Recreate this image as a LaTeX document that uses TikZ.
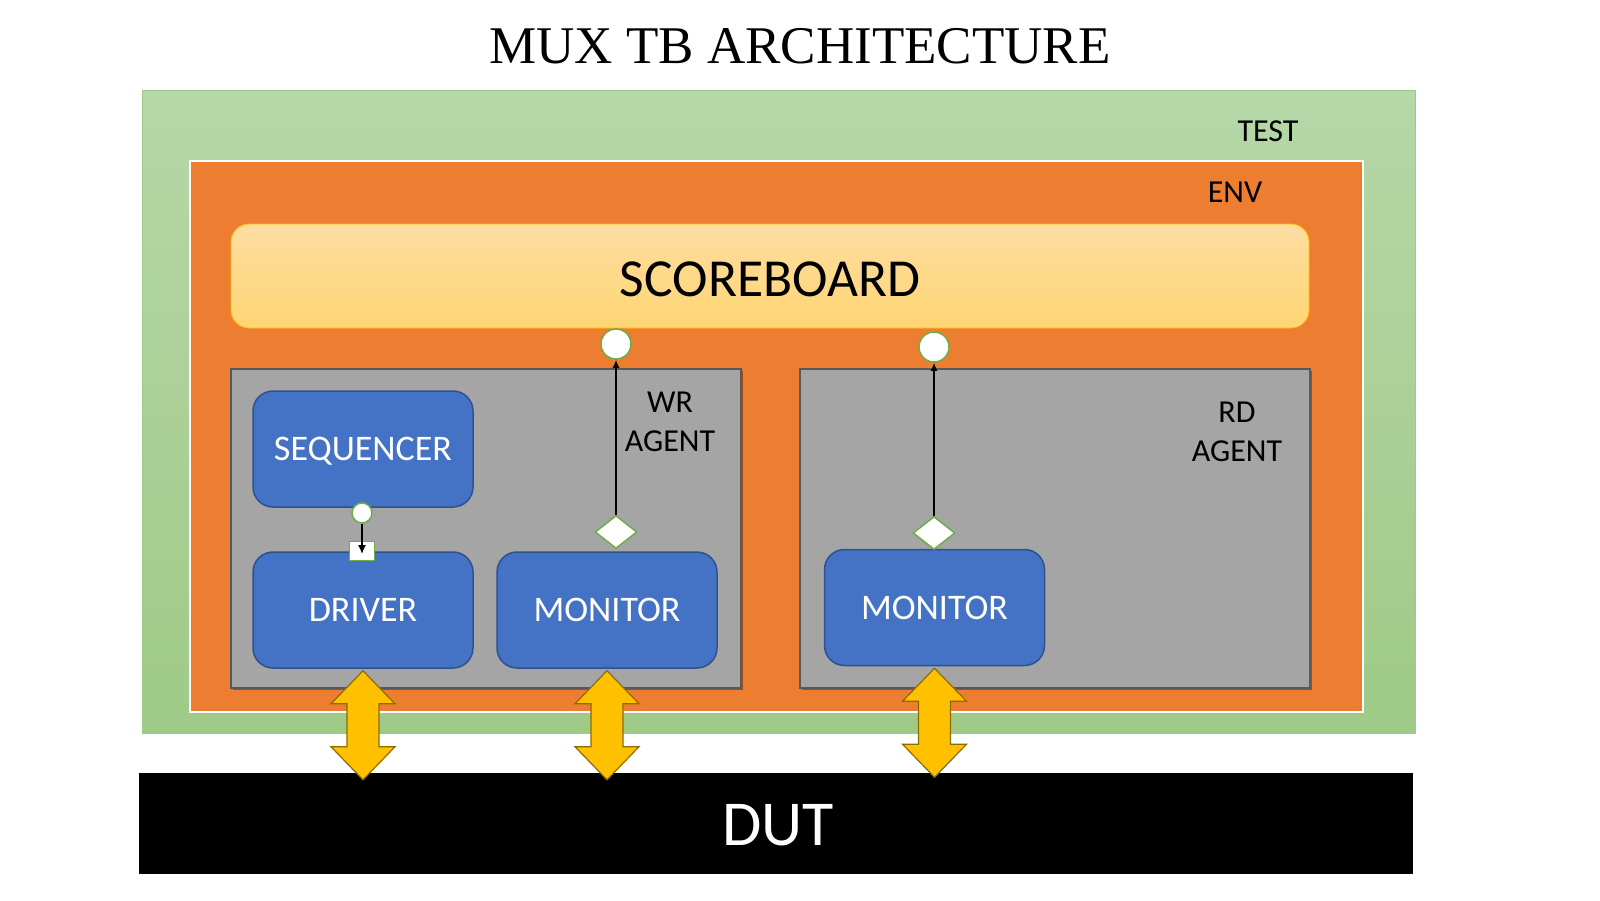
\documentclass[tikz,border=0pt]{standalone}
\usepackage{fontspec}
\setmainfont{Carlito}
\newfontfamily\titlefont{Liberation Serif}
\usetikzlibrary{shadows,arrows.meta,shapes.geometric,calc}
\definecolor{testtop}{HTML}{B6D7A8}
\definecolor{testbot}{HTML}{9FCA86}
\definecolor{envor}{HTML}{ED7D31}
\definecolor{sbtop}{HTML}{FDDCA2}
\definecolor{sbbot}{HTML}{FFD672}
\definecolor{sbedge}{HTML}{FFC000}
\definecolor{agray}{HTML}{A5A5A5}
\definecolor{agrayedge}{HTML}{595959}
\definecolor{bblue}{HTML}{4472C4}
\definecolor{bblueedge}{HTML}{2F528F}
\definecolor{portedge}{HTML}{70AD47}
\definecolor{yarr}{HTML}{FFC000}
\definecolor{yarredge}{HTML}{8C6D00}
\tikzset{
  testbox/.style={rectangle, inner sep=0, shading=axis, top color=testtop, bottom color=testbot, draw=testbot, line width=0.8pt},
  envbox/.style={rectangle, inner sep=0, fill=envor, draw=white, line width=2.5pt},
  sbbox/.style={rectangle, rounded corners=18pt, inner sep=0, shading=axis, top color=sbtop, bottom color=sbbot, draw=sbedge, line width=0.8pt},
  agentbox/.style={rectangle, inner sep=0, fill=agray, draw=agrayedge, line width=1.5pt, drop shadow={shadow xshift=2pt, shadow yshift=-2pt, fill=black, opacity=0.35}},
  compbox/.style={rectangle, rounded corners=20pt, inner sep=0, fill=bblue, draw=bblueedge, line width=1.5pt, minimum width=220pt, minimum height=116pt},
  comptext/.style={inner sep=0, text=white, font=\fontsize{36}{43}\selectfont, text depth=0pt},
  lbl/.style={inner sep=0, align=center, font=\fontsize{32}{39}\selectfont},
  portc/.style={circle, fill=white, draw=portedge, line width=1.5pt, inner sep=0},
  portd/.style={diamond, fill=white, draw=portedge, line width=1.5pt, inner sep=0, minimum width=42pt, minimum height=33pt},
  ports/.style={rectangle, fill=white, draw=portedge, line width=1.5pt, inner sep=0, minimum width=25pt, minimum height=19pt},
  link/.style={line width=2pt, -{Latex[length=8pt,width=7pt]}},
  yarrow/.style={fill=yarr, draw=yarredge, line width=1.2pt, line join=miter}
}
\begin{document}
\begin{tikzpicture}[x=1pt, y=-1pt]
\useasboundingbox[fill=white] (0,0) rectangle (1600,900);
% title
\node[inner sep=0, anchor=base, font=\titlefont\fontsize{53}{60}\selectfont] (title) at (800,63) {MUX TB ARCHITECTURE};
% test
\node[testbox, minimum width=1273pt, minimum height=643pt] (test) at (778.5,411.5) {};
\node[lbl] (testlbl) at (1268,131) {TEST};
% env
\node[envbox, minimum width=1173pt, minimum height=551pt] (env) at (776.5,436.5) {};
\node[lbl] (envlbl) at (1235,192) {ENV};
% scoreboard
\node[sbbox, minimum width=1078pt, minimum height=104pt] (sb) at (770,276) {};
\node[inner sep=0, font=\fontsize{53.5}{60}\selectfont] (sblbl) at (770,279) {SCOREBOARD};
% agents
\node[agentbox, minimum width=510pt, minimum height=319pt] (wr) at (486,528.5) {};
\node[agentbox, minimum width=510pt, minimum height=319pt] (rd) at (1055,528.5) {};
\node[lbl] (wrlbl) at (670,422) {WR\\AGENT};
\node[lbl] (rdlbl) at (1237,432) {RD\\AGENT};
% components
\node[compbox] (seq) at (363,449) {};
\node[comptext] at (seq.center) {SEQUENCER};
\node[compbox] (drv) at (363,610) {};
\node[comptext] at (drv.center) {DRIVER};
\node[compbox] (mon1) at (607,610) {};
\node[comptext] at (mon1.center) {MONITOR};
\node[compbox] (mon2) at (934.5,607.5) {};
\node[comptext] at (mon2.center) {MONITOR};
% ports
\node[portc, minimum size=30pt] (cw) at (616,344) {};
\node[portc, minimum size=30pt] (cr) at (934,347) {};
\node[portd] (dw) at (616,532) {};
\node[portd] (dr) at (934,533) {};
\node[portc, minimum size=20pt] (seqp) at (362,513) {};
\node[ports] (drvp) at (362,551) {};
% connectors
\draw[link] (dw.north) -- (cw.south);
\draw[link] (dr.north) -- (cr.south);
\draw[line width=1.5pt, -{Latex[length=9pt,width=8pt]}] (seqp.south) -- ($(drvp.center)+(0,3)$);
% DUT
\node[rectangle, fill=black, inner sep=0, minimum width=1274pt, minimum height=101pt] (dut) at (776,823.5) {};
\node[inner sep=0, text=white, font=\fontsize{64}{70}\selectfont] (dutlbl) at (778,825) {DUT};
% yellow double arrows
\foreach \src in {drv,mon1,mon2}{
  \draw[yarrow, shift={(\src.south)}] (0,2) -- (32,35) -- (16,35) -- (16,78) -- (32,78) -- (0,111) -- (-32,78) -- (-16,78) -- (-16,35) -- (-32,35) -- cycle;
}
\end{tikzpicture}
\end{document}
